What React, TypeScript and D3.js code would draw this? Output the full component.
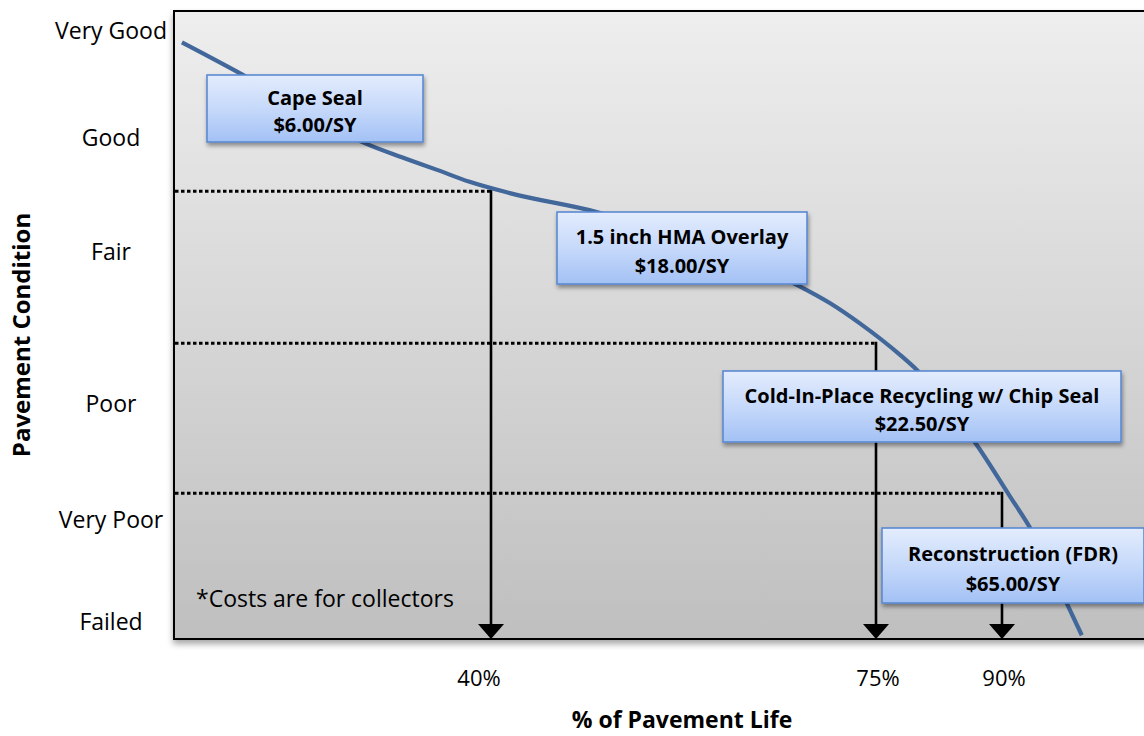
import React from "react";
import * as d3 from "d3";

// ---- data ----
const lifePct = [1, 8, 16, 24, 29, 33.2, 37.3, 41.7, 49.6, 59, 67.8, 70.8, 73.5, 77.9, 79.9, 87, 91, 93.3, 97.7, 99.5];
const conditionPci = [95, 90.3, 84.6, 79, 76.6, 74.7, 72.8, 71, 68, 62.7, 56.4, 53.5, 50.3, 45.2, 42.8, 30.9, 22.6, 17.8, 5.7, 0.6];

const conditionLabels = ["Very Good", "Good", "Fair", "Poor", "Very Poor", "Failed"];
const conditionLabelPci = [97, 80, 61.8, 37.6, 19.1, 2.9];

const milestonePct = [40, 75, 90];
const milestonePci = [71.3, 47.1, 23.2];
const milestoneLabels = ["40%", "75%", "90%"];

const treatmentNames = ["Cape Seal", "1.5 inch HMA Overlay", "Cold-In-Place Recycling w/ Chip Seal", "Reconstruction (FDR)"];
const treatmentCosts = ["$6.00/SY", "$18.00/SY", "$22.50/SY", "$65.00/SY"];

// ---- layout ----
const W = 1144;
const H = 736;
const plot = { left: 174, top: 11, right: 1160, bottom: 639 };
const boxLayout = [
  { x: 207, y: 75, w: 216, h: 67 },
  { x: 557, y: 212, w: 250, h: 72 },
  { x: 723, y: 371, w: 398, h: 71 },
  { x: 882, y: 528, w: 262, h: 75 },
];
const FONT = "'Open Sans', 'DejaVu Sans', sans-serif";

export default function App() {
  const x = d3.scaleLinear().domain([0, 40, 75, 90, 100]).range([174, 491, 876, 1002, 1086]);
  const y = d3.scaleLinear().domain([0, 100]).range([plot.bottom, plot.top]);

  const pts = lifePct.map((p, i) => [p, conditionPci[i]] as [number, number]);
  const line = d3
    .line<[number, number]>()
    .x((d) => x(d[0]))
    .y((d) => y(d[1]))
    .curve(d3.curveMonotoneX);

  return (
    <div style={{ position: "absolute", left: 0, top: 0, width: W, height: H }}>
      <svg width={W} height={H} style={{ display: "block", fontFamily: FONT }}>
        <defs>
          <linearGradient id="bg" x1="0" y1="0" x2="0" y2="1">
            <stop offset="0%" stopColor="#eeeeee" />
            <stop offset="100%" stopColor="#bfbfbf" />
          </linearGradient>
          <linearGradient id="boxfill" x1="0" y1="0" x2="0" y2="1">
            <stop offset="0%" stopColor="#e3ecfd" />
            <stop offset="50%" stopColor="#c6d9fa" />
            <stop offset="100%" stopColor="#a3c1f5" />
          </linearGradient>
          <filter id="plotShadow" x="-5%" y="-5%" width="110%" height="115%">
            <feDropShadow dx="0" dy="4" stdDeviation="3" floodColor="#000" floodOpacity="0.35" />
          </filter>
          <filter id="boxShadow" x="-10%" y="-20%" width="120%" height="150%">
            <feDropShadow dx="1" dy="3" stdDeviation="2" floodColor="#000" floodOpacity="0.4" />
          </filter>
        </defs>

        {/* plot area */}
        <rect
          x={plot.left}
          y={plot.top}
          width={plot.right - plot.left}
          height={plot.bottom - plot.top}
          fill="url(#bg)"
          stroke="#000"
          strokeWidth={2}
          filter="url(#plotShadow)"
        />

        {/* y labels */}
        {conditionLabels.map((lab, i) => (
          <text
            key={lab}
            x={111}
            y={y(conditionLabelPci[i])}
            textAnchor="middle"
            dominantBaseline="central"
            fontSize={23}
            fill="#000"
          >
            {lab}
          </text>
        ))}

        {/* thresholds: dotted lines and arrows */}
        {milestonePct.map((p, i) => {
          const mx = x(p);
          const my = y(milestonePci[i]);
          return (
            <g key={p}>
              <line x1={plot.left + 1} x2={mx} y1={my} y2={my} stroke="#000" strokeWidth={3} strokeDasharray="3.5,2.5" />
              <line x1={mx} x2={mx} y1={my - 1.5} y2={plot.bottom - 12} stroke="#000" strokeWidth={2.6} />
              <path d={`M${mx - 13},${plot.bottom - 15} L${mx + 13},${plot.bottom - 15} L${mx},${plot.bottom} Z`} fill="#000" />
            </g>
          );
        })}

        {/* curve */}
        <path d={line(pts) || ""} fill="none" stroke="#42679a" strokeWidth={4.2} strokeLinecap="butt" />

        {/* treatment boxes */}
        {treatmentNames.map((name, i) => {
          const b = boxLayout[i];
          const cx = b.x + b.w / 2;
          return (
            <g key={name}>
              <rect x={b.x} y={b.y} width={b.w} height={b.h} fill="url(#boxfill)" stroke="#5a8ad2" strokeWidth={1.6} filter="url(#boxShadow)" />
              <text x={cx} y={b.y + b.h * 0.34} textAnchor="middle" dominantBaseline="central" fontSize={20} fontWeight={700} fill="#000">
                {name}
              </text>
              <text x={cx} y={b.y + b.h * 0.74} textAnchor="middle" dominantBaseline="central" fontSize={20} fontWeight={700} fill="#000">
                {treatmentCosts[i]}
              </text>
            </g>
          );
        })}

        {/* footnote */}
        <text x={196} y={598} dominantBaseline="central" fontSize={23} fill="#000">
          *Costs are for collectors
        </text>

        {/* x labels */}
        {milestoneLabels.map((lab, i) => (
          <text key={lab} x={x(milestonePct[i]) + (i === 0 ? -12 : 2)} y={677} textAnchor="middle" dominantBaseline="central" fontSize={22} fill="#000">
            {lab}
          </text>
        ))}

        {/* axis titles */}
        <text x={682} y={719} textAnchor="middle" dominantBaseline="central" fontSize={23} fontWeight={700} fill="#000">
          % of Pavement Life
        </text>
        <text
          transform={`translate(20,335) rotate(-90)`}
          textAnchor="middle"
          dominantBaseline="central"
          fontSize={24}
          fontWeight={700}
          fill="#000"
        >
          Pavement Condition
        </text>
      </svg>
    </div>
  );
}
